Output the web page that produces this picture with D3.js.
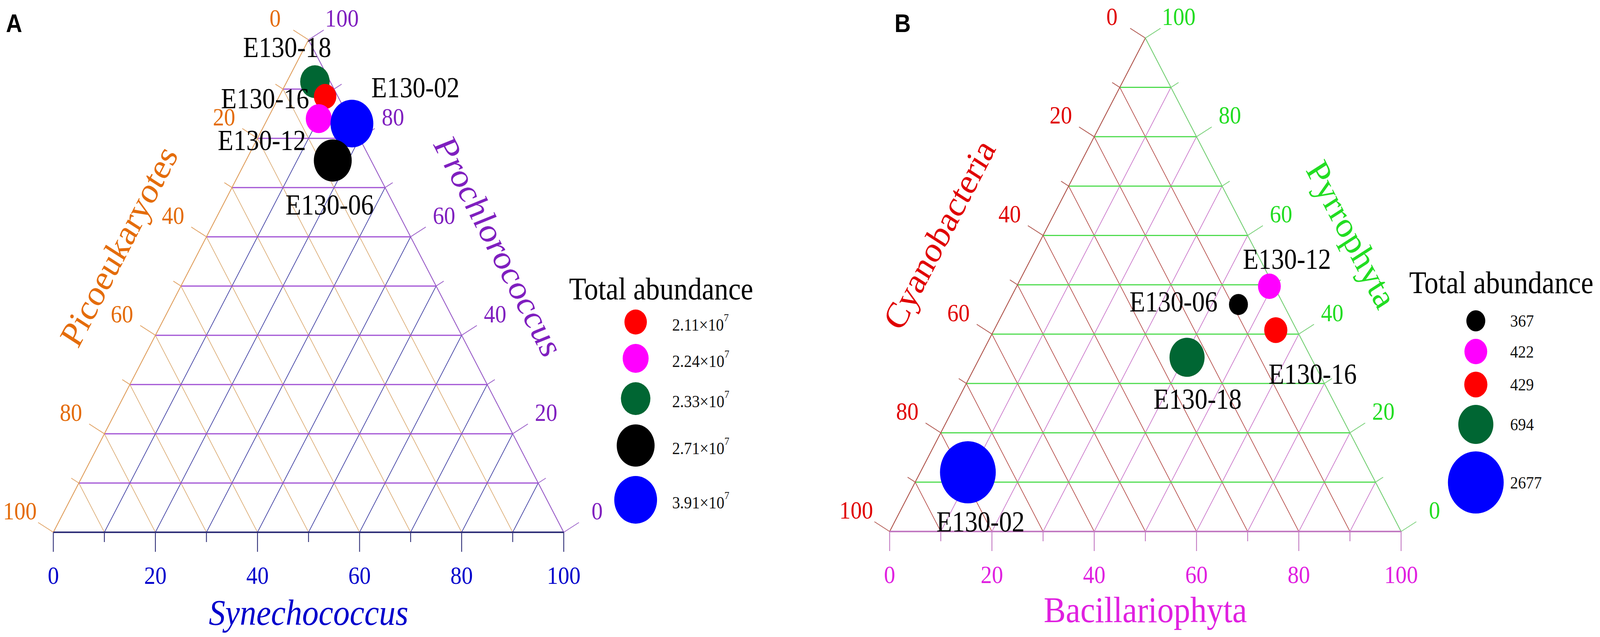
<!DOCTYPE html>
<html>
<head>
<meta charset="utf-8">
<script src="https://cdn.jsdelivr.net/npm/d3@7"></script>
<style>
  html, body { margin: 0; padding: 0; background: #fff; overflow: hidden; }
  svg { display: block; }
  text { font-family: "Liberation Serif", "Times New Roman", serif; }
</style>
</head>
<body>
<div id="chart"></div>
<script>
// ---- data (percentages) ----
var samples = ["E130-02", "E130-06", "E130-12", "E130-16", "E130-18"];
var sampleColors = ["#0000ff", "#000000", "#ff00ff", "#ff0000", "#006633"];

// panel A: Picoeukaryotes / Synechococcus / Prochlorococcus
var picoA = [0, 7.5, 6, 2.5, 3];
var synA = [17, 17, 10, 9, 5.5];
var proA = [83, 75.5, 84, 88.5, 91.5];
var totalA = [3.91, 2.71, 2.24, 2.11, 2.33];   // x10^7

// panel B: Cyanobacteria / Bacillariophyta / Pyrrophyta
var cyanoB = [78.7, 8.8, 0.9, 4.1, 24.2];
var bacB = [9.3, 45.2, 49.4, 55.1, 40.5];
var pyrB = [12, 46, 49.7, 40.8, 35.3];
var totalB = [2677, 367, 422, 429, 694];

var tickValues = [0, 20, 40, 60, 80, 100];
var gridValues = [10, 20, 30, 40, 50, 60, 70, 80, 90];

// ---- layout / style ----
var width = 4561, height = 1630;
var SQ3 = Math.sqrt(3) / 2;
var C30 = Math.cos(Math.PI / 6), S30 = 0.5;

// stretch the drawing over the whole window (the window can be narrower than asked)
var svg = d3.select("#chart").append("svg")
    .attr("viewBox", "0 0 " + width + " " + height)
    .attr("preserveAspectRatio", "none")
    .style("width", "100vw").style("height", "100vh");

var panelA = {
    x0: 152, y0: 1362, side: 1455, titleDist: 205, bottomTitleDist: 205,
    topVals: proA, rightVals: synA, totals: totalA,
    radii: [32, 37, 42, 54, 61], legendX: 1812, legendY: 824, legendGap: 24,
    legendTitle: [1622, 766], textX: 1916, textDy: 6, sci: true,
    left: { name: "Picoeukaryotes", label: "#e46c0a", edge: "#e0a060", grid: "#ddb07c", italic: false },
    right: { name: "Prochlorococcus", label: "#7f1fbf", edge: "#9a5ec8", grid: "#a050d4", italic: true },
    bottom: { name: "Synechococcus", label: "#0000cc", edge: "#303078", grid: "#4646a6", italic: true },
    labelOff: [[181, -92], [-9, 114], [-162, 56], [-171, 5], [-79, -88]],
    letter: ["A", 17, 82]
};

var panelB = {
    x0: 2536, y0: 1360, side: 1458, titleDist: 258, bottomTitleDist: 200,
    topVals: pyrB, rightVals: bacB, totals: totalB,
    radii: [27, 32.5, 33, 50, 79.5], legendX: 4207, legendY: 821, legendGap: 19,
    legendTitle: [4017, 750], textX: 4305, textDy: 0, sci: false,
    left: { name: "Cyanobacteria", label: "#e00000", edge: "#b0564e", grid: "#b85450", italic: false },
    right: { name: "Pyrrophyta", label: "#22dd22", edge: "#77d077", grid: "#4fdc4f", italic: false },
    bottom: { name: "Bacillariophyta", label: "#e020e0", edge: "#c27ac2", grid: "#cc7ccc", italic: false },
    labelOff: [[36, 127], [-185, -7], [50, -69], [105, 112], [30, 107]],
    letter: ["B", 2550, 82]
};

drawTernary(panelA);
drawTernary(panelB);

function drawTernary(cfg) {
    var g = svg.append("g");
    var s = d3.scaleLinear().domain([0, 100]).range([0, cfg.side]);

    // top = component of the apex, right = component of the bottom-right vertex
    function pos(top, right) {
        return [cfg.x0 + s(right) + s(top) / 2, cfg.y0 - s(top) * SQ3];
    }
    function seg(a, b, color, w) {
        g.append("line")
            .attr("x1", a[0]).attr("y1", a[1]).attr("x2", b[0]).attr("y2", b[1])
            .attr("stroke", color).attr("stroke-width", w);
    }

    // grid
    gridValues.forEach(function (v) {
        seg(pos(100 - v, 0), pos(0, 100 - v), cfg.left.grid, 2);
    });
    gridValues.forEach(function (v) {
        seg(pos(0, v), pos(100 - v, v), cfg.bottom.grid, 2);
    });
    gridValues.forEach(function (v) {
        seg(pos(v, 0), pos(v, 100 - v), cfg.right.grid, 3);
    });

    // edges
    seg(pos(0, 0), pos(100, 0), cfg.left.edge, 2.5);
    seg(pos(100, 0), pos(0, 100), cfg.right.edge, 2.5);
    seg(pos(0, 0), pos(0, 100), cfg.bottom.edge, 4);

    // ticks
    d3.range(0, 101, 10).forEach(function (v) {
        var len = v % 20 === 0 ? 50 : 25;
        var p = pos(100 - v, 0);
        seg(p, [p[0] - len * C30, p[1] - len * S30], cfg.left.edge, 2);
        var q = pos(v, 100 - v);
        seg(q, [q[0] + len * C30, q[1] - len * S30], cfg.right.edge, 2);
        var b = pos(0, v);
        seg(b, [b[0], b[1] + len], cfg.bottom.edge, 2.5);
    });

    // tick labels
    function tickText(xy, txt, color) {
        g.append("text").attr("x", xy[0]).attr("y", xy[1])
            .attr("text-anchor", "middle").attr("dominant-baseline", "central")
            .attr("font-size", 64).attr("fill", color).text(txt);
    }
    tickValues.forEach(function (v) {
        var p = pos(100 - v, 0);
        tickText([p[0] - 110 * C30, p[1] - 110 * S30], v, cfg.left.label);
        var q = pos(v, 100 - v);
        tickText([q[0] + 110 * C30, q[1] - 110 * S30], v, cfg.right.label);
        var b = pos(0, v);
        tickText([b[0], b[1] + 110], v, cfg.bottom.label);
    });

    // axis titles
    function title(xy, rot, ax) {
        g.append("text")
            .attr("transform", "translate(" + xy[0] + "," + xy[1] + ") rotate(" + rot + ")")
            .attr("text-anchor", "middle").attr("dominant-baseline", "central")
            .attr("font-size", 94).attr("fill", ax.label)
            .style("font-style", ax.italic ? "italic" : "normal")
            .text(ax.name);
    }
    var ml = pos(50, 0), mr = pos(50, 50), mb = pos(0, 50);
    title([ml[0] - cfg.titleDist * C30, ml[1] - cfg.titleDist * S30], -60, cfg.left);
    title([mr[0] + cfg.titleDist * C30, mr[1] - cfg.titleDist * S30], 60, cfg.right);
    title([mb[0], mb[1] + cfg.bottomTitleDist], 0, cfg.bottom);

    // bubbles
    var rScale = d3.scaleLinear()
        .domain(d3.sort(cfg.totals))
        .range(cfg.radii);

    var pts = samples.map(function (name, i) {
        var p = pos(cfg.topVals[i], cfg.rightVals[i]);
        return { name: name, x: p[0], y: p[1], r: rScale(cfg.totals[i]),
                 color: sampleColors[i], total: cfg.totals[i], off: cfg.labelOff[i] };
    });
    var drawOrder = d3.sort(pts, function (d) { return d.y; });

    g.selectAll(".bubble").data(drawOrder).enter().append("circle")
        .attr("class", "bubble")
        .attr("cx", function (d) { return d.x; })
        .attr("cy", function (d) { return d.y; })
        .attr("r", function (d) { return d.r; })
        .attr("fill", function (d) { return d.color; });

    g.selectAll(".sample").data(pts).enter().append("text")
        .attr("class", "sample")
        .attr("x", function (d) { return d.x + d.off[0]; })
        .attr("y", function (d) { return d.y + d.off[1]; })
        .attr("text-anchor", "middle").attr("dominant-baseline", "central")
        .attr("font-size", 73).attr("fill", "#000")
        .text(function (d) { return d.name; });

    // legend
    g.append("text").attr("x", cfg.legendTitle[0]).attr("y", cfg.legendTitle[1])
        .attr("font-size", 80).attr("fill", "#000").text("Total abundance");

    var items = d3.sort(pts, function (d) { return d.total; });
    var y = cfg.legendY;
    items.forEach(function (d, i) {
        if (i > 0) y += items[i - 1].r + d.r + cfg.legendGap;
        g.append("circle").attr("cx", cfg.legendX).attr("cy", y)
            .attr("r", d.r).attr("fill", d.color);
        var t = g.append("text").attr("x", cfg.textX).attr("y", y + cfg.textDy)
            .attr("dominant-baseline", "central")
            .attr("font-size", 45).attr("fill", "#111");
        if (cfg.sci) {
            t.append("tspan").text(d3.format(".2f")(d.total) + "\u00d710");
            t.append("tspan").attr("font-size", 28).attr("dy", -17).text("7");
        } else {
            t.text(d.total);
        }
    });

    // panel letter
    svg.append("text").attr("x", cfg.letter[1]).attr("y", cfg.letter[2])
        .style("font-family", "'Liberation Sans', Arial, sans-serif")
        .attr("font-weight", "bold").attr("font-size", 64).attr("fill", "#000")
        .text(cfg.letter[0]);
}
</script>
</body>
</html>
